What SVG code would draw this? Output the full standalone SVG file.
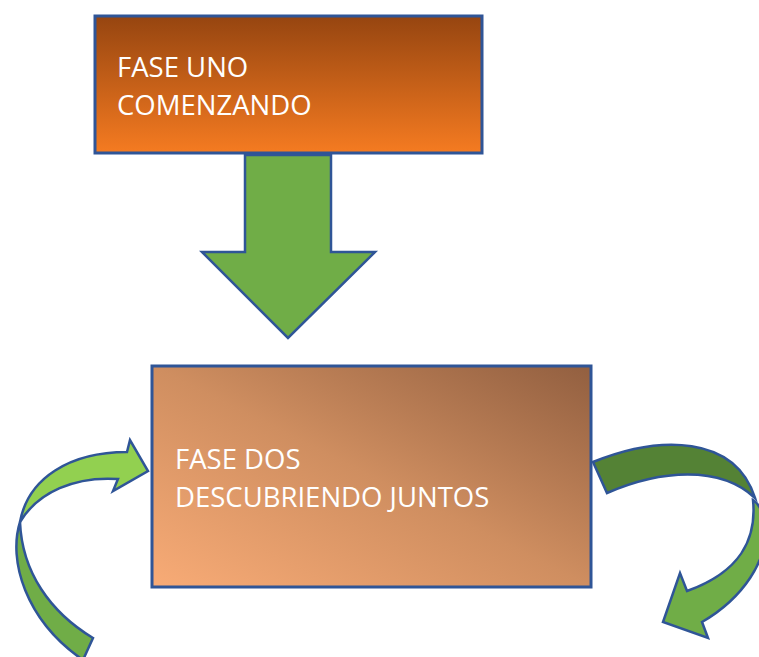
<svg xmlns="http://www.w3.org/2000/svg" width="759" height="657" viewBox="0 0 759 657">
<defs>
<linearGradient id="g1" x1="0" y1="0" x2="0" y2="1">
<stop offset="0" stop-color="#964510"/>
<stop offset="1" stop-color="#F57B21"/>
</linearGradient>
<linearGradient id="g2" x1="0" y1="1" x2="1" y2="0">
<stop offset="0" stop-color="#F8AB76"/>
<stop offset="0.5" stop-color="#CF8E60"/>
<stop offset="1" stop-color="#925F40"/>
</linearGradient>
<style>
.box{stroke:#2F5597;stroke-width:3}
.arw{stroke:#2F5597;stroke-width:2.5;stroke-linejoin:miter}
.lbl{font-family:"Open Sans","Noto Sans",sans-serif;font-size:27.5px;fill:#FFFFFF}
</style>
</defs>
<g id="fase-uno">
<rect class="box" x="95" y="16" width="387" height="137" fill="url(#g1)"/>
<text class="lbl" x="117" y="77">FASE UNO</text>
<text class="lbl" x="117" y="115">COMENZANDO</text>
</g>
<g id="fase-dos">
<rect class="box" x="152" y="366" width="439" height="221" fill="url(#g2)"/>
<text class="lbl" x="175" y="469">FASE DOS</text>
<text class="lbl" x="175" y="507">DESCUBRIENDO JUNTOS</text>
</g>
<g id="connectors">
<path class="arw" fill="#70AD47" d="M245,155 L331,155 L331,252 L375,252 L288,338 L202,252 L245,252 Z"/>
<g id="left-curved-arrow">
<path class="arw" fill="#70AD47" d="M20,522 C8,560 25,620 83,660 L93,638 C50,612 22,572 20,522 Z"/>
<path class="arw" fill="#92D050" d="M20,522 C28,478 70,452 127,452 L130,440 L148,471 L113,491 L118,479 C75,476 38,492 20,522 Z"/>
</g>
<g id="right-curved-arrow">
<path class="arw" fill="#548235" d="M593,462 C660,435 735,435 755,498 C720,465 660,470 607,493 Z"/>
<path class="arw" fill="#70AD47" d="M753,500 C757,540 740,572 687,591 L680,573 L663,622 L708,638 L702,622 C740,600 772,560 764,520 C762,510 758,503 753,500 Z"/>
</g>
</g>
</svg>
